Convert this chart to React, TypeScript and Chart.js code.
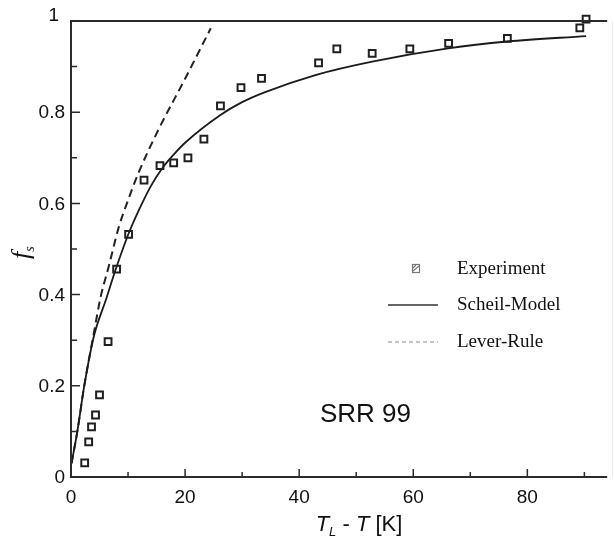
import React, { useEffect, useRef } from "react";
import { Chart, registerables } from "chart.js";

Chart.register(...registerables);

// Experiment data (T_L - T [K], f_s)
const expX = [2.4, 3.1, 3.6, 4.3, 5.0, 6.5, 8.0, 10.1, 12.8, 15.6, 18.0, 20.5, 23.3, 26.2, 29.8, 33.4, 43.4, 46.6, 52.8, 59.4, 66.2, 76.5, 89.2, 90.3];
const expY = [0.031, 0.077, 0.11, 0.136, 0.18, 0.297, 0.456, 0.532, 0.651, 0.683, 0.689, 0.7, 0.741, 0.814, 0.854, 0.874, 0.908, 0.939, 0.929, 0.939, 0.951, 0.962, 0.985, 1.004];

// Scheil-Model curve
const scheilX = [0.1, 1.15, 2.3, 4.0, 6.1, 7.8, 10.1, 12.0, 14.0, 16.0, 18.0, 20.0, 26.2, 30.0, 33.8, 43.0, 52.8, 66.1, 76.5, 90.3];
const scheilY = [0.03, 0.103, 0.198, 0.308, 0.388, 0.454, 0.534, 0.588, 0.638, 0.677, 0.707, 0.733, 0.794, 0.822, 0.843, 0.882, 0.911, 0.94, 0.955, 0.967];

// Lever-Rule curve
const leverX = [0.1, 1.15, 2.3, 4.0, 5.2, 6.6, 8.4, 9.8, 11.8, 15.3, 19.9, 24.5];
const leverY = [0.03, 0.103, 0.198, 0.315, 0.395, 0.461, 0.549, 0.6, 0.666, 0.761, 0.871, 0.984];

const xTicks = [0, 20, 40, 60, 80];
const xMinorTicks = [10, 30, 50, 70, 90];
const yTicks = [0, 0.2, 0.4, 0.6, 0.8, 1];
const yMinorTicks = [0.1, 0.3, 0.5, 0.7, 0.9];
const yTickLabels = ["0", "0.2", "0.4", "0.6", "0.8", "1"];

const legendLabels = ["Experiment", "Scheil-Model", "Lever-Rule"];
const annotationText = "SRR 99";

const SANS = '"Liberation Sans", Arial, Helvetica, sans-serif';
const SERIF = '"Liberation Serif", "Times New Roman", serif';

const decorPlugin = {
  id: "decor",
  afterDraw(chart: any) {
    const { ctx, chartArea, scales } = chart;
    const { left, right, top, bottom } = chartArea;
    const xs = scales.x;
    const ys = scales.y;
    ctx.save();

    // faint right border
    ctx.strokeStyle = "#ececec";
    ctx.lineWidth = 1;
    ctx.beginPath();
    ctx.moveTo(612.5, top);
    ctx.lineTo(612.5, bottom);
    ctx.stroke();

    // axes frame
    ctx.strokeStyle = "#2b2b2b";
    ctx.lineWidth = 2;
    ctx.beginPath();
    ctx.moveTo(right, top);
    ctx.lineTo(left, top);
    ctx.lineTo(left, bottom);
    ctx.lineTo(right, bottom);
    ctx.stroke();

    // ticks (inward)
    ctx.lineWidth = 1.5;
    ctx.beginPath();
    xTicks.forEach((v) => {
      const px = xs.getPixelForValue(v);
      ctx.moveTo(px, bottom);
      ctx.lineTo(px, bottom - 8);
    });
    xMinorTicks.forEach((v) => {
      const px = xs.getPixelForValue(v);
      ctx.moveTo(px, bottom);
      ctx.lineTo(px, bottom - 5);
    });
    yTicks.forEach((v) => {
      const py = ys.getPixelForValue(v);
      ctx.moveTo(left, py);
      ctx.lineTo(left + 9, py);
    });
    yMinorTicks.forEach((v) => {
      const py = ys.getPixelForValue(v);
      ctx.moveTo(left, py);
      ctx.lineTo(left + 6, py);
    });
    ctx.stroke();

    // tick labels
    ctx.fillStyle = "#111";
    ctx.font = `19px ${SANS}`;
    ctx.textAlign = "center";
    ctx.textBaseline = "middle";
    xTicks.forEach((v) => {
      ctx.fillText(String(v), xs.getPixelForValue(v), bottom + 21);
    });
    ctx.textAlign = "right";
    yTicks.forEach((v, i) => {
      const dx = v === 1 ? -6 : 0;
      const dy = v === 1 ? -5 : 1;
      ctx.fillText(yTickLabels[i], left - 6 + dx, ys.getPixelForValue(v) + dy);
    });

    // x axis title: T_L - T [K]
    const parts = [
      { t: "T", f: `italic 22px ${SANS}`, dy: 0 },
      { t: "L", f: `italic 13px ${SANS}`, dy: 5 },
      { t: " - ", f: `22px ${SANS}`, dy: 0 },
      { t: "T", f: `italic 22px ${SANS}`, dy: 0 },
      { t: " [K]", f: `22px ${SANS}`, dy: 0 },
    ];
    let total = 0;
    const widths = parts.map((p) => {
      ctx.font = p.f;
      const w = ctx.measureText(p.t).width;
      total += w;
      return w;
    });
    let cx = 359 - total / 2;
    ctx.textAlign = "left";
    ctx.textBaseline = "alphabetic";
    parts.forEach((p, i) => {
      ctx.font = p.f;
      ctx.fillText(p.t, cx, 531 + p.dy);
      cx += widths[i];
    });

    // y axis title: f_s
    ctx.save();
    ctx.translate(29, 250);
    ctx.rotate(-Math.PI / 2);
    ctx.font = `italic 26px ${SERIF}`;
    ctx.textAlign = "left";
    const fw = ctx.measureText("f").width;
    ctx.fillText("f", -9, 0);
    ctx.font = `italic 14px ${SERIF}`;
    ctx.fillText("s", -9 + fw, 5);
    ctx.restore();

    // legend
    const lx0 = 388;
    const lx1 = 438;
    const ly = [269, 305, 342];
    // experiment marker (small hatched square)
    ctx.strokeStyle = "#777";
    ctx.lineWidth = 1.2;
    ctx.strokeRect(412.5, 264.5, 7, 8);
    ctx.beginPath();
    ctx.moveTo(413, 271);
    ctx.lineTo(419, 266);
    ctx.moveTo(413, 268);
    ctx.lineTo(416, 265);
    ctx.stroke();
    // scheil line
    ctx.strokeStyle = "#333";
    ctx.lineWidth = 1.6;
    ctx.beginPath();
    ctx.moveTo(lx0, ly[1]);
    ctx.lineTo(lx1, ly[1]);
    ctx.stroke();
    // lever line
    ctx.strokeStyle = "#8a8a8a";
    ctx.lineWidth = 1.2;
    ctx.setLineDash([4, 3]);
    ctx.beginPath();
    ctx.moveTo(lx0, ly[2]);
    ctx.lineTo(lx1, ly[2]);
    ctx.stroke();
    ctx.setLineDash([]);

    ctx.fillStyle = "#111";
    ctx.font = `19px ${SERIF}`;
    ctx.textAlign = "left";
    ctx.textBaseline = "middle";
    legendLabels.forEach((t, i) => ctx.fillText(t, 457, ly[i]));

    // annotation
    ctx.font = `26px ${SANS}`;
    ctx.fillText(annotationText, 320, 415);

    ctx.restore();
  },
};

export default function App() {
  const ref = useRef<HTMLCanvasElement | null>(null);

  useEffect(() => {
    document.body.style.margin = "0";
    const canvas = ref.current;
    if (!canvas) return;
    const chart = new Chart(canvas, {
      type: "scatter",
      data: {
        datasets: [
          {
            label: legendLabels[0],
            data: expX.map((x, i) => ({ x, y: expY[i] })),
            pointStyle: "rect",
            pointRadius: 4.8,
            pointBorderWidth: 2,
            borderColor: "#1f1f1f",
            backgroundColor: "rgba(255,255,255,0)",
            showLine: false,
            clip: false,
          } as any,
          {
            label: legendLabels[1],
            data: scheilX.map((x, i) => ({ x, y: scheilY[i] })),
            showLine: true,
            pointRadius: 0,
            borderColor: "#1a1a1a",
            borderWidth: 1.8,
            cubicInterpolationMode: "monotone",
            clip: false,
          } as any,
          {
            label: legendLabels[2],
            data: leverX.map((x, i) => ({ x, y: leverY[i] })),
            showLine: true,
            pointRadius: 0,
            borderColor: "#222",
            borderWidth: 2,
            borderDash: [8, 5],
            cubicInterpolationMode: "monotone",
            clip: false,
          } as any,
        ],
      },
      options: {
        responsive: false,
        maintainAspectRatio: false,
        animation: false,
        layout: { padding: { top: 21, right: 0, left: 0, bottom: 0 } },
        plugins: {
          legend: { display: false },
          tooltip: { enabled: false },
          title: { display: false },
        },
        scales: {
          x: {
            type: "linear",
            min: 0,
            max: 94,
            ticks: { display: false },
            grid: { display: false },
            border: { display: false },
            afterFit: (s: any) => {
              s.height = 65;
            },
          },
          y: {
            type: "linear",
            min: 0,
            max: 1,
            ticks: { display: false },
            grid: { display: false },
            border: { display: false },
            afterFit: (s: any) => {
              s.width = 71;
            },
          },
        },
      },
      plugins: [decorPlugin],
    });
    return () => chart.destroy();
  }, []);

  return (
    <div style={{ position: "fixed", left: 0, top: 0, width: 614, height: 542, background: "#fff" }}>
      <canvas ref={ref} width={614} height={542} style={{ display: "block" }} />
    </div>
  );
}
